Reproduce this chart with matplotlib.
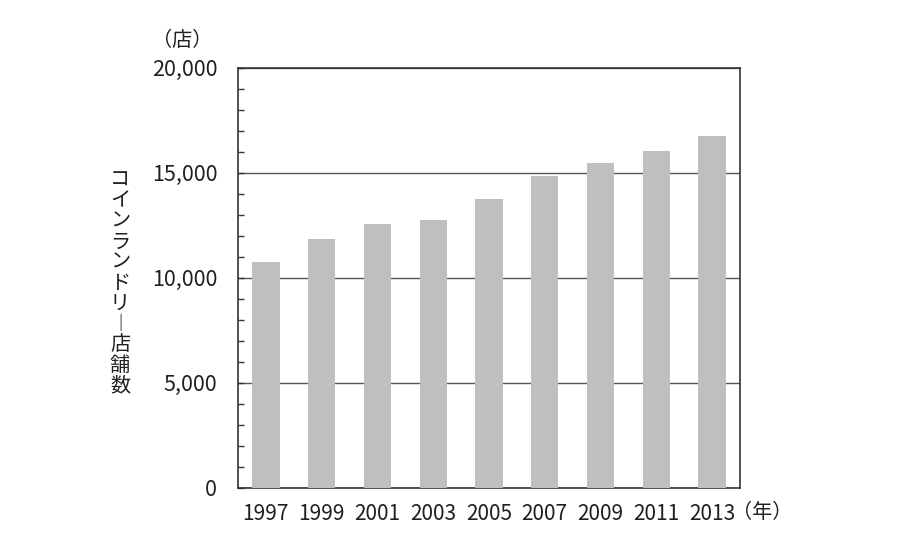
import matplotlib
matplotlib.use("Agg")
import matplotlib.pyplot as plt
from matplotlib.ticker import MultipleLocator, FuncFormatter

plt.rcParams['font.family'] = ['Noto Sans CJK JP', 'DejaVu Sans']

years = ['1997', '1999', '2001', '2003', '2005', '2007', '2009', '2011', '2013']
stores = [10730, 11840, 12540, 12750, 13760, 14860, 15450, 16020, 16750]
ylabel_chars = ['コ', 'イ', 'ン', 'ラ', 'ン', 'ド', 'リ', '︱', '店', '舗', '数']

txt = '#231f20'
fig = plt.figure(figsize=(9, 5.47), dpi=100)
ax = fig.add_axes([0.2644, 0.1084, 0.5578, 0.7678])

x = range(len(years))
ax.bar(x, stores, width=0.49, color='#bfbfbf', zorder=3)

ax.set_xlim(-0.5, len(years) - 0.5)
ax.set_ylim(0, 20000)
ax.yaxis.set_major_locator(MultipleLocator(5000))
ax.yaxis.set_minor_locator(MultipleLocator(1000))
ax.yaxis.set_major_formatter(FuncFormatter(lambda v, p: f'{int(v):,}'))
ax.grid(axis='y', which='major', color='#555555', linewidth=1.0, zorder=1)

ax.set_xticks(list(x))
ax.set_xticklabels(years)
ax.tick_params(axis='x', length=0, pad=11, labelsize=15, labelcolor=txt)
ax.tick_params(axis='y', which='both', direction='in', length=4, width=1,
               color='#333333', pad=15, labelsize=15.5, labelcolor=txt)
for s in ax.spines.values():
    s.set_color('#333333')
    s.set_linewidth(1.2)

fig.text(182 / 900, 1 - 40 / 547, '（店）', ha='center', va='center', fontsize=14.5, color=txt)
fig.text(762 / 900, 1 - 512 / 547, '（年）', ha='center', va='center', fontsize=14.5, color=txt)
fig.text(120 / 900, 1 - 283 / 547, '\n'.join(ylabel_chars), ha='center', va='center',
         fontsize=14.5, color=txt, linespacing=0.97)

fig.savefig('out.png', dpi=100)
